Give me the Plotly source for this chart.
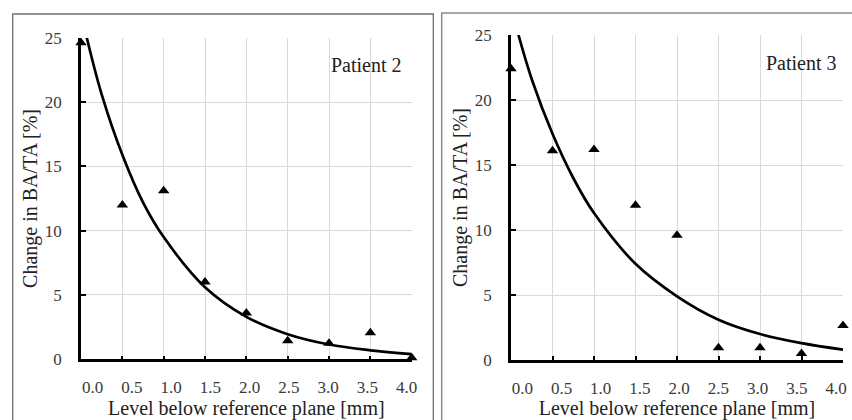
import plotly.graph_objects as go

# ---------------- data ----------------
levels = [0.0, 0.5, 1.0, 1.5, 2.0, 2.5, 3.0, 3.5, 4.0]
patient2_change = [24.6, 12.0, 13.1, 6.0, 3.6, 1.45, 1.25, 2.07, 0.12]
patient3_change = [22.4, 16.1, 16.2, 11.9, 9.6, 0.95, 0.95, 0.5, 2.65]

# exponential trend lines
trend2_x = [0.07, 0.25, 0.5, 0.75, 1.0, 1.5, 2.0, 2.5, 3.0, 3.5, 4.0]
trend2_y = [25.0, 20.6, 15.9, 12.2, 9.5, 5.6, 3.3, 1.95, 1.15, 0.7, 0.4]
trend3_x = [0.09, 0.25, 0.5, 0.75, 1.0, 1.5, 2.0, 2.5, 3.0, 3.5, 4.0]
trend3_y = [25.0, 21.6, 17.4, 14.0, 11.3, 7.4, 4.9, 3.1, 2.0, 1.3, 0.8]

x_tick_vals = [0.0, 0.5, 1.0, 1.5, 2.0, 2.5, 3.0, 3.5, 4.0]
x_tick_text = ["0.0", "0.5", "1.0", "1.5", "2.0", "2.5", "3.0", "3.5", "4.0"]
y_tick_vals = [0, 5, 10, 15, 20, 25]
y_tick_text = ["0", "5", "10", "15", "20", "25"]

panel_labels = ["Patient 2", "Patient 3"]
x_title = "Level below reference plane [mm]"
y_title = "Change in BA/TA [%]"

# ---------------- layout helpers ----------------
W, H = 852, 420
FONT = "Liberation Serif, Times New Roman, serif"
TICK_COLOR = "#3a3a3a"
TEXT_COLOR = "#222222"


def px_x(p):
    return p / W


def px_y(p):
    return 1 - p / H


fig = go.Figure()

fig.add_trace(go.Scatter(x=levels, y=patient2_change, mode="markers",
                         marker=dict(symbol="triangle-up", size=10, color="black"),
                         cliponaxis=False, xaxis="x", yaxis="y", showlegend=False))
fig.add_trace(go.Scatter(x=trend2_x, y=trend2_y, mode="lines",
                         line=dict(color="black", width=2.7, shape="spline"),
                         cliponaxis=False, xaxis="x", yaxis="y", showlegend=False))
fig.add_trace(go.Scatter(x=levels, y=patient3_change, mode="markers",
                         marker=dict(symbol="triangle-up", size=10, color="black"),
                         cliponaxis=False, xaxis="x2", yaxis="y2", showlegend=False))
fig.add_trace(go.Scatter(x=trend3_x, y=trend3_y, mode="lines",
                         line=dict(color="black", width=2.7, shape="spline"),
                         cliponaxis=False, xaxis="x2", yaxis="y2", showlegend=False))
# carriers for the label axes
fig.add_trace(go.Scatter(x=x_tick_vals, y=[None] * len(x_tick_vals), mode="markers",
                         xaxis="x3", yaxis="y", showlegend=False, hoverinfo="skip"))
fig.add_trace(go.Scatter(x=x_tick_vals, y=[None] * len(x_tick_vals), mode="markers",
                         xaxis="x4", yaxis="y2", showlegend=False, hoverinfo="skip"))

panels = [
    dict(xd=[81, 411.7], yd=[359.3, 37.7], lab_rng=[-0.149, 4.064]),
    dict(xd=[511, 843], yd=[360, 35], lab_rng=[-0.144, 4.089]),
]

main_x = dict(range=[0, 4], tickvals=x_tick_vals, showticklabels=False,
              showgrid=True, gridcolor="#d9d9d9", gridwidth=1,
              showline=True, linecolor="black", linewidth=2.5,
              ticks="inside", ticklen=4, tickwidth=2, tickcolor="black",
              zeroline=False, fixedrange=True, automargin=False)
main_y = dict(range=[0, 25], tickvals=y_tick_vals, ticktext=y_tick_text,
              showgrid=True, gridcolor="#d9d9d9", gridwidth=1,
              showline=True, linecolor="black", linewidth=2.5,
              ticks="inside", ticklen=5, tickwidth=2, tickcolor="black",
              tickfont=dict(family=FONT, size=17, color=TICK_COLOR),
              ticklabelstandoff=13,
              title=dict(text=y_title, font=dict(family=FONT, size=20, color=TEXT_COLOR),
                         standoff=2),
              zeroline=False, fixedrange=True, automargin=False)
lab_x = dict(tickvals=x_tick_vals, ticktext=x_tick_text, showgrid=False,
             showline=False, zeroline=False, ticks="",
             tickfont=dict(family=FONT, size=17, color=TICK_COLOR),
             ticklabelstandoff=16,
             title=dict(text=x_title, font=dict(family=FONT, size=20, color=TEXT_COLOR),
                        standoff=3),
             fixedrange=True, automargin=False)

fig.update_layout(
    template="none",
    width=W, height=H, autosize=False,
    margin=dict(l=0, r=0, t=0, b=0, pad=0),
    paper_bgcolor="white", plot_bgcolor="white",
    xaxis=dict(main_x, domain=[px_x(panels[0]["xd"][0]), px_x(panels[0]["xd"][1])], anchor="y"),
    yaxis=dict(main_y, domain=[px_y(panels[0]["yd"][0]), px_y(panels[0]["yd"][1])], anchor="x"),
    xaxis2=dict(main_x, domain=[px_x(panels[1]["xd"][0]), px_x(panels[1]["xd"][1])], anchor="y2"),
    yaxis2=dict(main_y, domain=[px_y(panels[1]["yd"][0]), px_y(panels[1]["yd"][1])], anchor="x2"),
    xaxis3=dict(lab_x, range=panels[0]["lab_rng"], overlaying="x", anchor="y"),
    xaxis4=dict(lab_x, range=panels[1]["lab_rng"], overlaying="x2", anchor="y2"),
)

# panel frames
fig.add_shape(type="rect", xref="paper", yref="paper",
              x0=px_x(12.7), x1=px_x(433.3), y0=px_y(430), y1=px_y(14),
              line=dict(color="#6e6e6e", width=1.3), fillcolor="rgba(0,0,0,0)", layer="above")
fig.add_shape(type="rect", xref="paper", yref="paper",
              x0=px_x(441.7), x1=px_x(870), y0=px_y(430), y1=px_y(13),
              line=dict(color="#8c8c8c", width=1.5), fillcolor="rgba(0,0,0,0)", layer="above")

# label boxes (white, hiding gridlines) + labels
boxes = [(322, 411.7, 37.7, 83, 366.7, 65), (762, 843, 35, 82, 801, 63)]
for (bx0, bx1, by0, by1, tx, ty), label in zip(boxes, panel_labels):
    fig.add_shape(type="rect", xref="paper", yref="paper",
                  x0=px_x(bx0), x1=px_x(bx1 - 1), y0=px_y(by1), y1=px_y(by0 + 1),
                  line=dict(width=0), fillcolor="white", layer="between")
    fig.add_annotation(xref="paper", yref="paper", x=px_x(tx), y=px_y(ty),
                       xanchor="center", yanchor="middle", showarrow=False,
                       text=label, font=dict(family=FONT, size=20, color=TEXT_COLOR))

fig.write_html(
    "out.html",
    config={"displayModeBar": False},
    post_script="document.body.style.margin='0';document.body.style.overflow='hidden';",
)
